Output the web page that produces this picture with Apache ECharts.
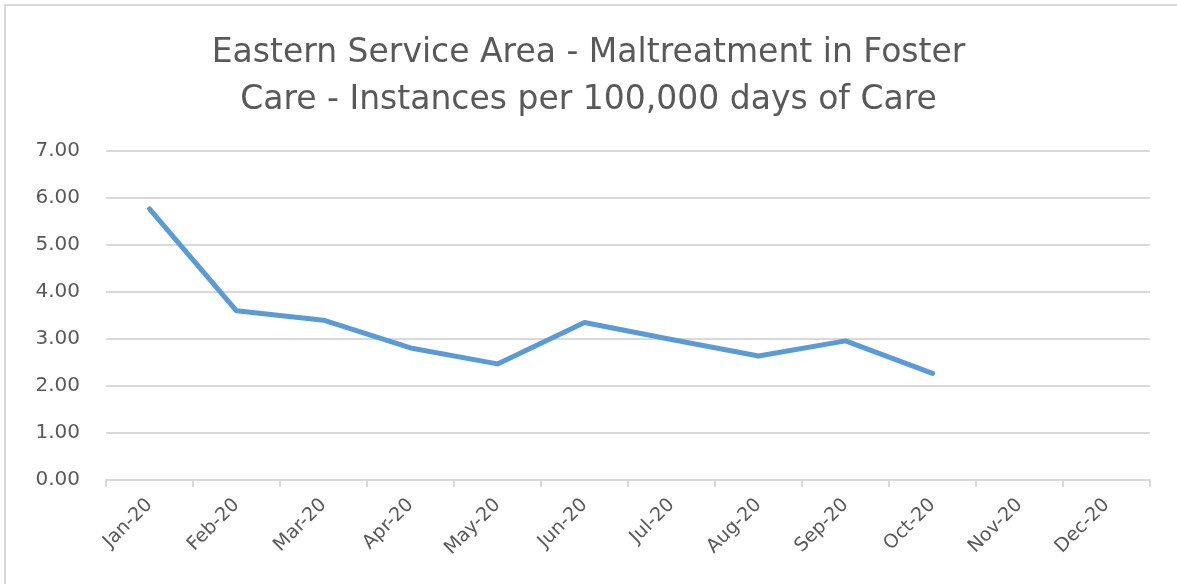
<!DOCTYPE html>
<html>
<head>
<meta charset="utf-8">
<script src="https://cdn.jsdelivr.net/npm/echarts@6/dist/echarts.min.js"></script>
<style>
html, body { margin: 0; padding: 0; background: #fff; overflow: hidden; }
#main { width: 1177px; height: 584px; }
</style>
</head>
<body>
<div id="main"></div>
<script>
// data
var months = ['Jan-20', 'Feb-20', 'Mar-20', 'Apr-20', 'May-20', 'Jun-20',
	'Jul-20', 'Aug-20', 'Sep-20', 'Oct-20', 'Nov-20', 'Dec-20'];
var rates = [5.77, 3.60, 3.40, 2.81, 2.47, 3.35, 2.99, 2.64, 2.96, 2.27, null, null];
var titleLines = ['Eastern Service Area - Maltreatment in Foster',
	'Care - Instances per 100,000 days of Care'];

var myChart = echarts.init(document.getElementById('main'));

var option = {
	backgroundColor: '#fff',
	animation: false,
	// chart area frame, only top and left edges are visible
	graphic: [{
		type: 'polyline',
		shape: { points: [[5, 584], [5, 5], [1177, 5]] },
		style: { stroke: '#d9d9d9', lineWidth: 2, fill: null },
		silent: true
	}],
	title: {
		text: titleLines.join('\n'),
		left: 'center',
		top: 30,
		padding: [0, 0, 0, 16],
		textStyle: {
			fontFamily: 'DejaVu Sans',
			fontSize: 33,
			fontWeight: 'normal',
			lineHeight: 47,
			color: '#595959'
		}
	},
	grid: {
		left: 106,
		right: 27,
		top: 151,
		bottom: 104
	},
	xAxis: {
		type: 'category',
		data: months,
		boundaryGap: true,
		axisLine: { lineStyle: { color: '#d9d9d9', width: 2 } },
		axisTick: { show: true, length: 7, lineStyle: { color: '#d9d9d9', width: 2 } },
		axisLabel: {
			rotate: 45,
			interval: 0,
			margin: 22,
			color: '#595959',
			fontFamily: 'DejaVu Sans',
			fontSize: 19
		},
		splitLine: { show: false }
	},
	yAxis: {
		type: 'value',
		min: 0,
		max: 7,
		interval: 1,
		axisLine: { show: false },
		axisTick: { show: false },
		axisLabel: {
			margin: 26,
			color: '#595959',
			fontFamily: 'DejaVu Sans',
			fontSize: 20,
			formatter: function (v) { return v.toFixed(2); }
		},
		splitLine: { lineStyle: { color: '#d9d9d9', width: 2 } }
	},
	series: [{
		type: 'line',
		data: rates,
		symbol: 'none',
		lineStyle: { color: '#5b9bd5', width: 5, cap: 'round', join: 'round' }
	}]
};

myChart.setOption(option);
</script>
</body>
</html>
